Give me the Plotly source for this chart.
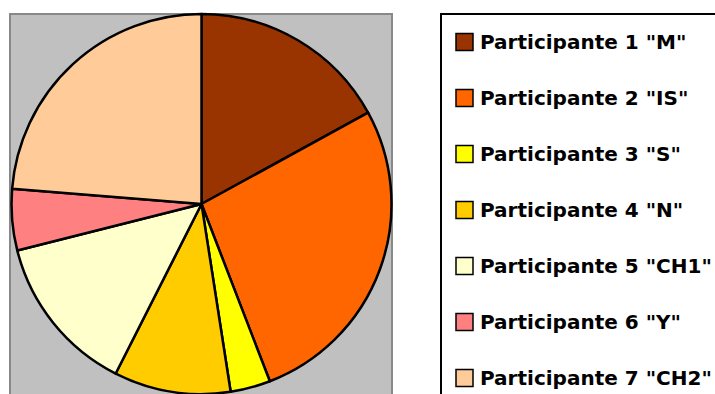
import plotly.graph_objects as go

labels = ['Participante 1 "M"', 'Participante 2 "IS"', 'Participante 3 "S"',
          'Participante 4 "N"', 'Participante 5 "CH1"', 'Participante 6 "Y"',
          'Participante 7 "CH2"']
values = [17.0, 27.1, 3.4, 9.9, 13.6, 5.2, 23.7]
colors = ["#993300", "#FF6600", "#FFFF00", "#FFCC00", "#FFFFCC", "#FF8080", "#FFCC99"]

W, H = 715, 394

def px(x):
    return x / W

def py(y):
    return 1 - y / H

cx, cy, r = 201.5, 204, 190

fig = go.Figure()
fig.add_trace(go.Pie(
    labels=labels, values=values, sort=False, direction="clockwise", rotation=0,
    marker=dict(colors=colors, line=dict(color="black", width=2.5)),
    textinfo="none", hoverinfo="label+percent", showlegend=False,
    domain=dict(x=[px(cx - r), px(cx + r)], y=[py(cy + r), py(cy - r)]),
))

shapes = [
    dict(type="rect", xref="paper", yref="paper", x0=px(10), x1=px(392), y0=py(398), y1=py(14),
         fillcolor="#C0C0C0", line=dict(color="#888888", width=2), layer="below"),
    dict(type="rect", xref="paper", yref="paper", x0=px(441), x1=px(720), y0=py(398), y1=py(14),
         fillcolor="white", line=dict(color="black", width=2), layer="below"),
]
annotations = []
row0, step = 42, 56
for i, (lab, col) in enumerate(zip(labels, colors)):
    yc = row0 + i * step
    shapes.append(dict(type="rect", xref="paper", yref="paper",
                       x0=px(456), x1=px(473), y0=py(yc + 8.5), y1=py(yc - 8.5),
                       fillcolor=col, line=dict(color="black", width=1.5), layer="above"))
    annotations.append(dict(xref="paper", yref="paper", x=px(478), y=py(yc), text="<b>" + lab + "</b>",
                            showarrow=False, xanchor="left", yanchor="middle",
                            font=dict(family="DejaVu Sans", size=20, color="black")))

fig.update_layout(width=W, height=H, margin=dict(l=0, r=0, t=0, b=0),
                  paper_bgcolor="white", plot_bgcolor="white",
                  shapes=shapes, annotations=annotations)
fig.write_html("out.html")
